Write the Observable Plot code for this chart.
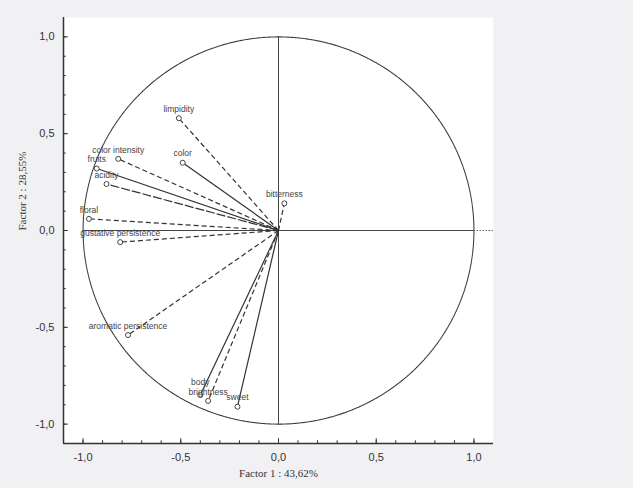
<!DOCTYPE html>
<html>
<head>
<meta charset="utf-8">
<script src="https://cdn.jsdelivr.net/npm/d3@7"></script>
<script src="https://cdn.jsdelivr.net/npm/@observablehq/plot@0.6"></script>
<style>
  html, body { margin: 0; padding: 0; background: #f1f1f3; }
  #chart svg { display: block; background: transparent; }
</style>
</head>
<body>
<div id="chart"></div>
<script>
const variables = ["limpidity", "color", "color intensity", "fruits", "acidity", "floral",
  "gustative persistence", "bitterness", "aromatic persistence", "body", "brightness", "sweet"];
const factor1 = [-0.51, -0.49, -0.82, -0.93, -0.88, -0.97, -0.81, 0.03, -0.77, -0.40, -0.36, -0.21];
const factor2 = [0.58, 0.35, 0.37, 0.32, 0.24, 0.06, -0.06, 0.14, -0.54, -0.85, -0.88, -0.91];
const dashedVars = ["limpidity", "color intensity", "floral", "gustative persistence", "bitterness", "aromatic persistence", "brightness"];
const longDashVars = ["acidity"];
const majorTicks = [-1, -0.5, 0, 0.5, 1];
const majorTickLabels = ["-1,0", "-0,5", "0,0", "0,5", "1,0"];
const minorTicks = [-1.0, -0.9, -0.8, -0.7, -0.6, -0.5, -0.4, -0.3, -0.2, -0.1, 0, 0.1, 0.2, 0.3, 0.4, 0.5, 0.6, 0.7, 0.8, 0.9, 1.0];
const xTitle = "Factor 1 : 43,62%";
const yTitle = "Factor 2 : 28,55%";

const data = variables.map((name, i) => ({name, x: factor1[i], y: factor2[i]}));
const solid = data.filter(d => !dashedVars.includes(d.name) && !longDashVars.includes(d.name));
const dashed = data.filter(d => dashedVars.includes(d.name));
const longDash = data.filter(d => longDashVars.includes(d.name));
const raisedLabel = data.filter(d => d.name === "body");
const normalLabel = data.filter(d => d.name !== "body");

// unit circle (reference geometry)
const circle = d3.range(0, 361, 2).map(a => ({x: Math.cos(a * Math.PI / 180), y: Math.sin(a * Math.PI / 180)}));

const fmt = d => majorTickLabels[majorTicks.indexOf(d)] ?? "";
const ink = "#333";
const edge = -1.1;

const chart = Plot.plot({
  width: 633,
  height: 488,
  marginLeft: 63,
  marginRight: 140,
  marginTop: 17,
  marginBottom: 45,
  style: {fontFamily: "Liberation Sans, Arial, sans-serif", background: "transparent"},
  x: {domain: [-1.1, 1.1]},
  y: {domain: [-1.1, 1.1]},
  marks: [
    Plot.frame({fill: "white", stroke: "none"}),
    // tick labels
    Plot.axisX({ticks: majorTicks, tickSize: 0, tickPadding: 10, tickFormat: fmt, fontSize: 11, fill: "#333", label: null}),
    Plot.axisY({ticks: majorTicks, tickSize: 0, tickPadding: 9, tickFormat: fmt, fontSize: 11, fill: "#333", label: null}),
    // inward ticks
    Plot.ruleX(minorTicks, {y1: edge, y2: edge + 0.014, stroke: ink, strokeWidth: 1}),
    Plot.ruleY(minorTicks, {x1: edge, x2: edge + 0.014, stroke: ink, strokeWidth: 1}),
    Plot.ruleX(majorTicks, {y1: edge, y2: edge + 0.025, stroke: ink, strokeWidth: 1}),
    Plot.ruleY(majorTicks, {x1: edge, x2: edge + 0.025, stroke: ink, strokeWidth: 1}),
    Plot.ruleX([edge], {stroke: ink, strokeWidth: 1.5}),
    Plot.ruleY([edge], {stroke: ink, strokeWidth: 1.5}),
    // reference axes through origin
    Plot.ruleY([0], {x1: -1, x2: 1, stroke: "#444", strokeWidth: 1}),
    Plot.ruleY([0], {x1: 1, x2: 1.1, stroke: "#666", strokeWidth: 1, strokeDasharray: "1.5,1.5"}),
    Plot.ruleX([0], {y1: -1, y2: 1, stroke: "#444", strokeWidth: 1}),
    // circle
    Plot.line(circle, {x: "x", y: "y", stroke: "#3a3a3a", strokeWidth: 1.1, strokeDasharray: "1.5,0.8"}),
    // vectors
    Plot.link(solid, {x1: 0, y1: 0, x2: "x", y2: "y", stroke: ink, strokeWidth: 1.2}),
    Plot.link(dashed, {x1: 0, y1: 0, x2: "x", y2: "y", stroke: ink, strokeWidth: 1.2, strokeDasharray: "5,3"}),
    Plot.link(longDash, {x1: 0, y1: 0, x2: "x", y2: "y", stroke: ink, strokeWidth: 1.2, strokeDasharray: "9,2"}),
    Plot.dot(data, {x: "x", y: "y", r: 2.5, stroke: "#444", fill: "white", strokeWidth: 1}),
    Plot.text(normalLabel, {x: "x", y: "y", text: "name", dy: -9, fontSize: 8.5, fill: "#444"}),
    Plot.text(raisedLabel, {x: "x", y: "y", text: "name", dy: -13, fontSize: 8.5, fill: "#444"}),
    // titles
    Plot.text([xTitle], {frameAnchor: "bottom", dy: 33, fontFamily: "Liberation Serif, Times New Roman, serif", fontSize: 11, fill: "#333"}),
    Plot.text([yTitle], {frameAnchor: "left", dx: -41, rotate: -90, fontFamily: "Liberation Serif, Times New Roman, serif", fontSize: 11, fill: "#333"})
  ]
});
document.getElementById("chart").append(chart);
</script>
</body>
</html>
